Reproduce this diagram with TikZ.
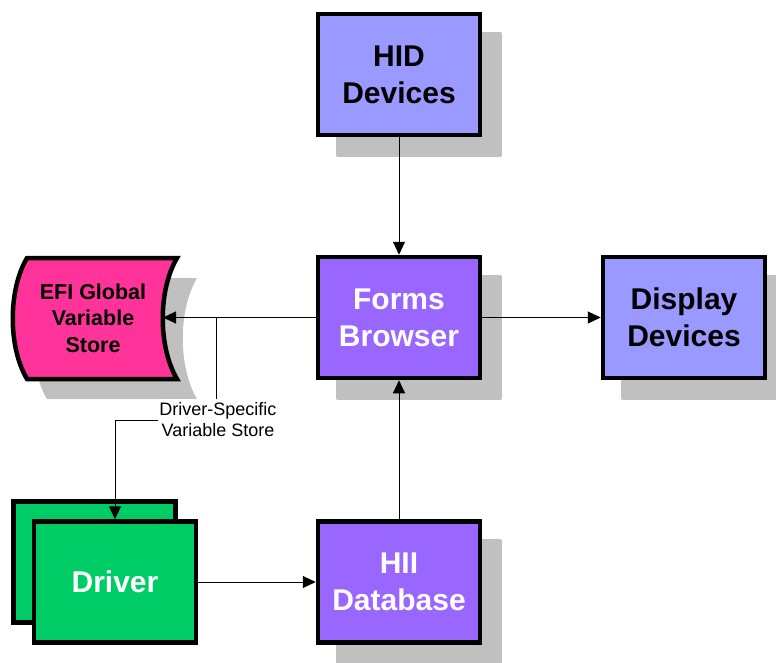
\documentclass[tikz,border=0pt]{standalone}
\usepackage{fontspec}
\setmainfont{Liberation Sans}
\usetikzlibrary{arrows.meta,shadows}
\definecolor{hidblue}{HTML}{9999FF}
\definecolor{formpurple}{HTML}{9966FF}
\definecolor{drvgreen}{HTML}{00CC66}
\definecolor{efipink}{HTML}{FF3399}
\definecolor{shadowgray}{HTML}{C0C0C0}
\newcommand{\storedata}[1]{\path[#1] (27,258) -- (177,258)
	.. controls (158,290) and (158,347) .. (177,379) -- (27,379)
	.. controls (8,347) and (8,290) .. (27,258) -- cycle}

\begin{document}
\begin{tikzpicture}[x=1pt,y=-1pt,
	>={Triangle[length=13pt,width=12pt]},
	block/.style={draw,line width=4.5pt,minimum width=162pt,minimum height=121pt,
		align=center,font=\fontsize{30}{37}\selectfont\bfseries},
	shade/.style={drop shadow={shadow xshift=20pt,shadow yshift=-20pt,
		fill=shadowgray,draw=shadowgray,line join=round,opacity=1}},
	link/.style={line width=1pt}]
	\useasboundingbox (0,0) rectangle (776,662);
		\storedata{fill=shadowgray,shift={(20,20)}};
		\storedata{fill=efipink,draw,line width=4.5pt};
		\node[align=center,font=\fontsize{21.5}{26.5}\selectfont\bfseries] (efi) at (93,318) {EFI Global\\Variable\\Store};
		\coordinate (efi in) at (163,317.5);
		\node[block,shade,fill=hidblue] (hid) at (399,74.5) {HID\\Devices};
		\node[block,shade,fill=formpurple,text=white] (forms) at (399,317.5) {Forms\\Browser};
		\node[block,shade,fill=hidblue] (disp) at (684,317.5) {Display\\Devices};
		\node[block,shade,fill=formpurple,text=white] (hii) at (399,582) {HII\\Database};
		\node[block,fill=drvgreen] (drv back) at (94.5,562) {};
		\node[block,fill=drvgreen,text=white] (drv) at (115,582) {Driver};
		\node[fill=white,inner xsep=1pt,inner ysep=4pt,align=center,font=\fontsize{18}{21}\selectfont] (dsvs) at (218,420) {Driver-Specific\\Variable Store};
		\coordinate (tap) at (216,317.5);
			\draw[link,->] (hid) -- (forms);
			\draw[link,->] (forms) -- (disp);
			\draw[link,->] (forms.west) -- (efi in);
			\draw[link] (tap) -- (tap |- dsvs.north);
			\draw[link,->] (dsvs.west) -| (drv.north);
			\draw[link,->] (drv) -- (hii);
			\draw[link,->] (hii) -- (forms);
\end{tikzpicture}
\end{document}
